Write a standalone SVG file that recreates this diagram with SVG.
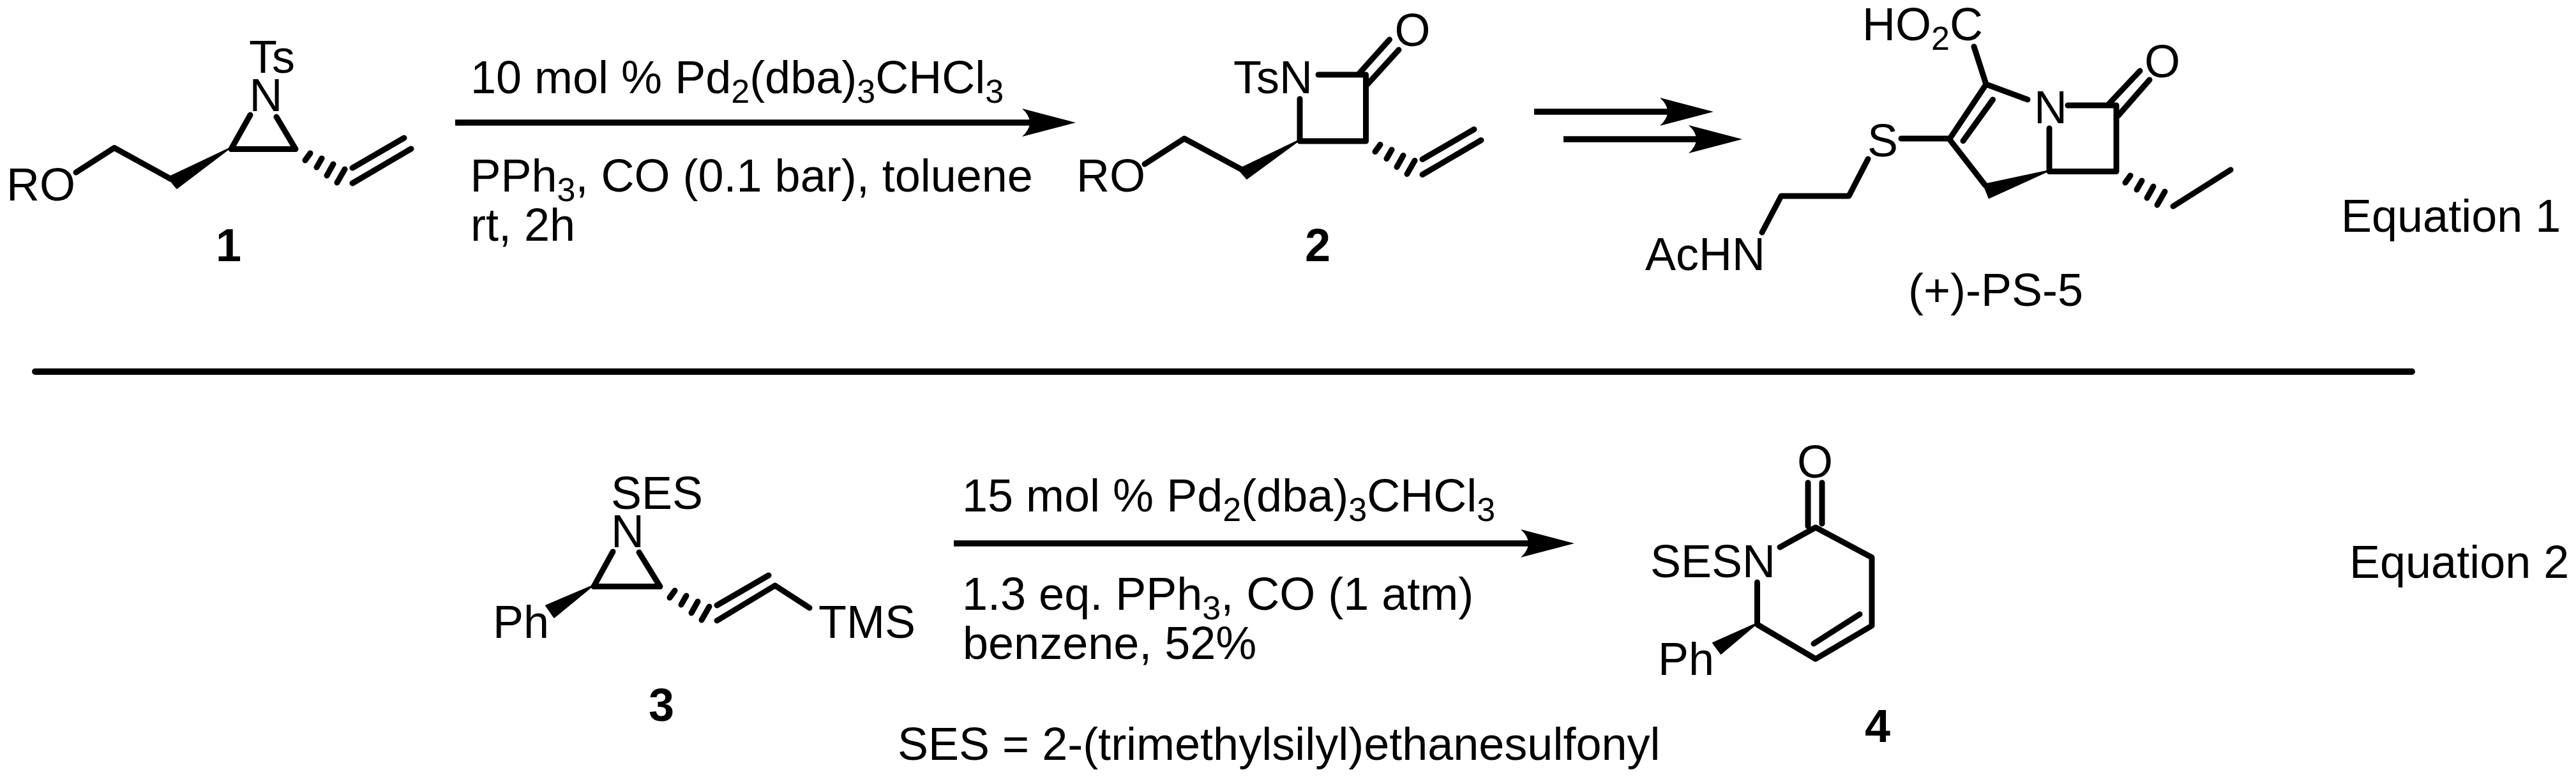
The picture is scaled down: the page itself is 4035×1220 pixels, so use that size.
<svg xmlns="http://www.w3.org/2000/svg" width="4035" height="1220" viewBox="0 0 4035 1220">
<style>
text{font-family:"Liberation Sans",Arial,sans-serif;font-size:72px;fill:#000}
.n{font-weight:bold}
.s{font-size:52px}
.b{fill:none;stroke:#000;stroke-width:9;stroke-linecap:round;stroke-linejoin:round}
.w{fill:#000;stroke:#000;stroke-width:2;stroke-linejoin:round}
.a{stroke:#000;stroke-width:9.5;fill:none}
</style>
<defs>
<marker id="head" markerUnits="userSpaceOnUse" markerWidth="86" markerHeight="46" viewBox="0 0 86 46" refX="13" refY="23" orient="auto">
<path d="M1,1 L85,23 L1,45 Q25,23 1,1Z" fill="#000"/>
</marker>
<g id="hash" class="b">
<path d="M486,240L478,251M504,248L496,262M522,257L512,275M540,265L528,286"/>
</g>
</defs>
<rect width="4035" height="1220" fill="#fff"/>

<g id="connectors">
<path class="a" d="M713,192H1613" marker-end="url(#head)"/>
<path class="a" d="M2403,175H2612" marker-end="url(#head)"/>
<path class="a" d="M2449,218H2657" marker-end="url(#head)"/>
<path class="a" d="M1494,851H2394" marker-end="url(#head)"/>
<path d="M55,582H3778" stroke="#000" stroke-width="10" stroke-linecap="round" fill="none"/>
</g>

<g id="compound-1">
<path class="b" d="M119,270L179,231.5L267,280M392,180L362,233.5H463L433,183M552,263L633,216M552,287L644,233"/>
<path class="w" d="M360,232L263,278L277,295Z"/>
<use href="#hash"/>
<text x="10" y="314">RO</text>
<text x="390" y="114">Ts</text>
<text x="390.5" y="174">N</text>
<text class="n" x="338" y="409">1</text>
</g>

<g id="reagents-1">
<text x="737" y="146">10 mol % Pd<tspan class="s" dy="15">2</tspan><tspan dy="-15">(dba)</tspan><tspan class="s" dy="15">3</tspan><tspan dy="-15">CHCl</tspan><tspan class="s" dy="15">3</tspan></text>
<text x="736.5" y="300">PPh<tspan class="s" dy="15">3</tspan><tspan dy="-15">, CO (0.1 bar), toluene</tspan></text>
<text x="737" y="377">rt, 2h</text>
</g>

<g id="compound-2">
<path class="b" d="M1793,257L1855,217L1944,265M2036,155V221H2139.5V117H2065M2129,115L2176.5,62M2142,132L2191,78M2228,249.5L2309,202.5M2228,273.5L2320,219.5"/>
<path class="w" d="M2036,219L1940,265L1953,280Z"/>
<use href="#hash" x="1676" y="-13.5"/>
<text x="1686" y="300">RO</text>
<text x="1932" y="146">TsN</text>
<text x="2184.5" y="72">O</text>
<text class="n" x="2044" y="409">2</text>
</g>

<g id="compound-ps5">
<path class="b" d="M3092,73L3111,132L3176,156M3111,132L3053.5,218L3109.5,290M3121.5,156L3075,220.6M2978,217H3053.5M2926,249L2896,307H2790L2760,364M3210,201V268.5H3315V165H3239M3303,163L3352,111M3318,181L3367,125M3404,323L3494,266"/>
<path class="w" d="M3210,267L3107,289L3115.5,310Z"/>
<use href="#hash" x="2851" y="35"/>
<text x="2917" y="63">HO<tspan class="s" dy="15">2</tspan><tspan dy="-15">C</tspan></text>
<text x="2925" y="245">S</text>
<text x="3186" y="193">N</text>
<text x="3359" y="121">O</text>
<text x="2577" y="423">AcHN</text>
<text x="2989" y="479">(+)-PS-5</text>
</g>

<text id="label-eq1" x="3667" y="363">Equation 1</text>

<g id="compound-3">
<path class="b" d="M960,864L930,918.6H1034L1001,865M1123,948L1204,901M1123,972L1214,917L1268,952"/>
<path class="w" d="M929,917L855,948.5L868,967Z"/>
<use href="#hash" x="571" y="685"/>
<text x="957" y="797">SES</text>
<text x="957" y="857">N</text>
<text x="772" y="999">Ph</text>
<text x="1282" y="999">TMS</text>
<text class="n" x="1016" y="1129">3</text>
</g>

<g id="reagents-2">
<text x="1507" y="801">15 mol % Pd<tspan class="s" dy="15">2</tspan><tspan dy="-15">(dba)</tspan><tspan class="s" dy="15">3</tspan><tspan dy="-15">CHCl</tspan><tspan class="s" dy="15">3</tspan></text>
<text x="1507" y="955">1.3 eq. PPh<tspan class="s" dy="15">3</tspan><tspan dy="-15">, CO (1 atm)</tspan></text>
<text x="1508" y="1032">benzene, 52%</text>
<text x="1406" y="1190">SES = 2-(trimethylsilyl)ethanesulfonyl</text>
</g>

<g id="compound-4">
<path class="b" d="M2832,756V824M2854,756V820M2788,857L2844,826L2932,873V980L2844,1032L2752.5,978V912M2913,962L2841,1008"/>
<path class="w" d="M2752.5,976L2683,1007L2695.6,1024Z"/>
<text x="2815" y="748">O</text>
<text x="2585" y="904">SESN</text>
<text x="2597" y="1057">Ph</text>
<text class="n" x="2921" y="1162">4</text>
</g>

<text id="label-eq2" x="3680" y="905">Equation 2</text>
</svg>
